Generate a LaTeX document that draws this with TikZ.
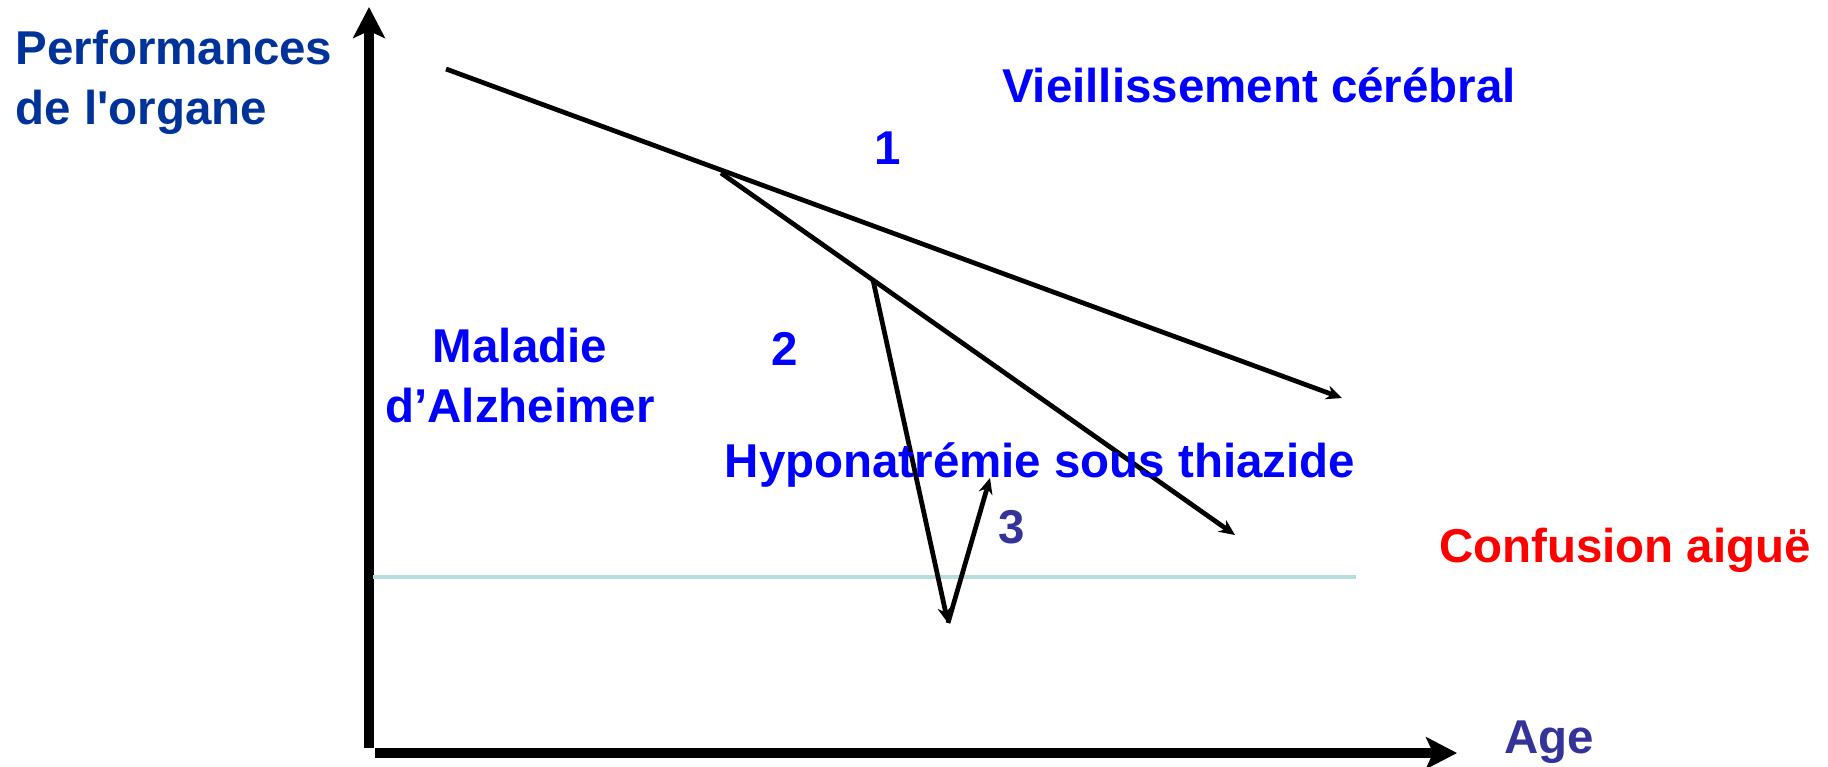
\documentclass[tikz,border=0pt]{standalone}
\usepackage{fontspec}
\setmainfont{Liberation Sans}
\usepackage{xcolor}
\usetikzlibrary{arrows.meta}
\definecolor{titleblue}{RGB}{0,51,153}
\definecolor{labelblue}{RGB}{0,0,255}
\definecolor{numblue}{RGB}{51,51,153}
\definecolor{seuilcyan}{RGB}{183,222,222}

\begin{document}
\begin{tikzpicture}[x=0.01cm, y=-0.01cm,
    lbl/.style={font=\fontsize{13.5}{16.8}\selectfont\bfseries, text=#1, inner sep=0pt, align=center},
    axe/.style={-{Stealth[length=8.8pt, width=9pt, inset=2pt]}, line width=2.85pt},
    arr/.style={-{Stealth[length=4.5pt, width=4pt]}, line width=1.35pt}
]
    \useasboundingbox (0,0) rectangle (1828,766);

    % Axes
    \coordinate (yfoot) at (369,748);
    \coordinate (ytop)  at (369,7);
    \coordinate (xfoot) at (375,753);
    \coordinate (xend)  at (1457,753);
    \draw[axe] (yfoot) -- (ytop);
    \draw[axe] (xfoot) -- (xend);
    \node[lbl=titleblue, anchor=base west, align=left] (perf) at (15,124) {Performances\\de l\textquotesingle organe};
    \node[lbl=numblue, anchor=base] (age) at (1549,753) {Age};

    % Seuil de confusion
    \coordinate (s1) at (373,577);
    \coordinate (s2) at (1356,577);
    \draw[seuilcyan, line width=1.4pt] (s1) -- (s2);
    \node[lbl=red, anchor=base] (conf) at (1625,562) {Confusion aiguë};

    % Trajectoires
    \coordinate (v0) at (446,69);
    \coordinate (v1) at (1342,398);
    \coordinate (a0) at (721,173);
    \coordinate (a1) at (1235,535);
    \coordinate (h0) at (873,280);
    \coordinate (h1) at (948,623);
    \coordinate (h2) at (990,478);
    \draw[arr] (v0) -- (v1);
    \draw[arr] (a0) -- (a1);
    \draw[arr] (h0) -- (h1);
    \draw[arr] (h1) -- (h2);

    % Etiquettes
    \node[lbl=labelblue, anchor=base] (vieil) at (1259,102) {Vieillissement cérébral};
    \node[lbl=labelblue, anchor=base] (n1)    at (888,164)  {1};
    \node[lbl=labelblue, anchor=base] (n2)    at (785,365)  {2};
    \node[lbl=labelblue, anchor=base] (alz)   at (520,422)  {Maladie\\d’Alzheimer};
    \node[lbl=labelblue, anchor=base] (hypo)  at (1040,477) {Hyponatrémie sous thiazide};
    \node[lbl=numblue, anchor=base]   (n3)    at (1012,543) {3};
\end{tikzpicture}
\end{document}
